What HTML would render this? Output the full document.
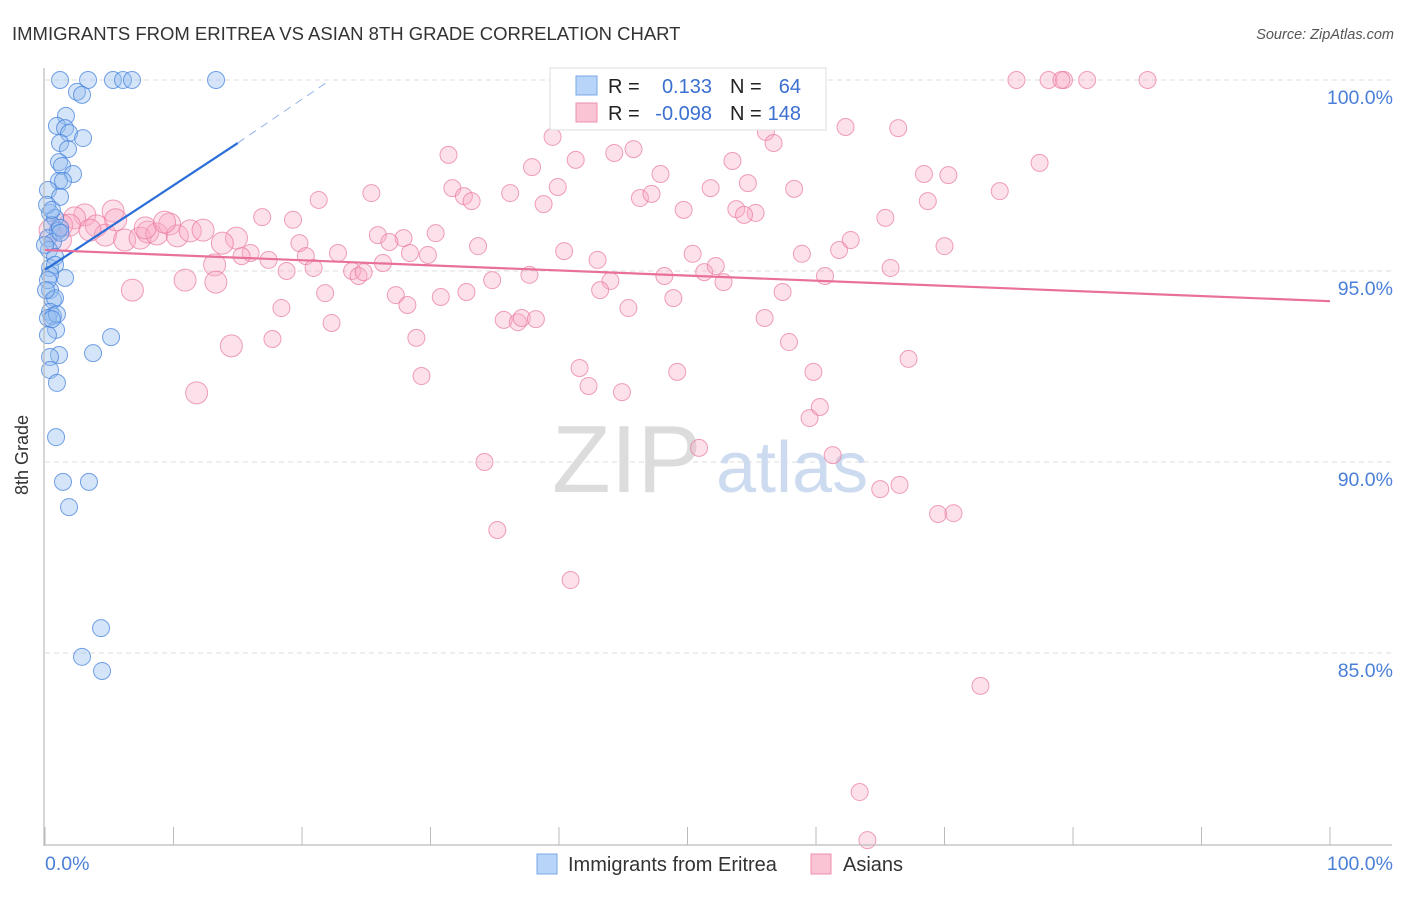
<!DOCTYPE html>
<html><head><meta charset="utf-8"><style>
body{margin:0;background:#fff;font-family:"Liberation Sans",sans-serif;}
svg text{font-family:"Liberation Sans",sans-serif;}
</style></head><body>
<svg width="1406" height="892" xmlns="http://www.w3.org/2000/svg">
<text x="12" y="40" font-size="18.5" fill="#333">IMMIGRANTS FROM ERITREA VS ASIAN 8TH GRADE CORRELATION CHART</text>
<text x="1394" y="39" font-size="14.5" fill="#555" font-style="italic" text-anchor="end">Source: ZipAtlas.com</text>
<g id="grid"></g>
<g>
<text x="552" y="492" font-size="96" fill="#dcdcdc" font-family="Liberation Serif">ZIP</text>
<text x="716" y="492" font-size="72" fill="#cddbf0">atlas</text>
</g>
<g id="pink"></g>
<g id="blue"></g>
<g id="trends"></g>
<line x1="44" y1="68" x2="44" y2="846" stroke="#bbb" stroke-width="1.2"/>
<line x1="44" y1="845" x2="1392" y2="845" stroke="#bbb" stroke-width="1.2"/>
<g id="axes"></g>
<text x="28" y="455" font-size="18" fill="#333" transform="rotate(-90 28 455)" text-anchor="middle">8th Grade</text>
<g>
<rect x="550" y="68" width="276" height="62" fill="#fff" stroke="#ddd"/>
<rect x="576" y="76" width="21" height="19" fill="#b8d4f8" stroke="#7aa8e8"/>
<rect x="576" y="103" width="21" height="19" fill="#fac4d4" stroke="#ec90ac"/>
<text x="608" y="93" font-size="20" fill="#222">R = </text>
<text x="712" y="93" font-size="20" fill="#3b6fd0" text-anchor="end">0.133</text>
<text x="730" y="93" font-size="20" fill="#222">N =</text>
<text x="801" y="93" font-size="20" fill="#3b6fd0" text-anchor="end">64</text>
<text x="608" y="120" font-size="20" fill="#222">R = </text>
<text x="712" y="120" font-size="20" fill="#3b6fd0" text-anchor="end">-0.098</text>
<text x="730" y="120" font-size="20" fill="#222">N =</text>
<text x="801" y="120" font-size="20" fill="#3b6fd0" text-anchor="end">148</text>
</g>
<g>
<rect x="537" y="854" width="20" height="20" fill="#b8d4f8" stroke="#7aa8e8"/>
<text x="568" y="871" font-size="20" fill="#333">Immigrants from Eritrea</text>
<rect x="811" y="854" width="20" height="20" fill="#fac4d4" stroke="#ec90ac"/>
<text x="843" y="871" font-size="20" fill="#333">Asians</text>
</g>
</svg>
<script>
const yTicks=[100,95,90,85];
const yTickLabels=["100.0%","95.0%","90.0%","85.0%"];
const xTickLabels=["0.0%","100.0%"];
const blueX=[1.17,3.35,5.29,6.07,6.77,13.31,2.49,2.88,1.63,0.93,1.56,1.87,2.96,1.17,1.79,1.09,1.32,2.18,1.09,1.40,0.23,1.17,0.39,0.78,0.54,1.01,0.23,0.62,0.31,0.78,0.39,0.78,1.56,0.39,0.62,0.78,0.39,0.62,0.23,0.86,0.23,1.09,0.39,3.74,5.14,0.39,0.93,0.86,1.40,3.42,1.87,4.36,2.88,4.44,0.16,0.54,1.17,0.0,0.39,0.23,0.93,0.54,0.08,1.2];
const blueY=[100,100,100,100,100,100,99.69,99.61,99.06,98.80,98.74,98.61,98.48,98.35,98.19,97.85,97.75,97.54,97.36,97.36,97.12,96.94,96.52,96.39,96.20,96.05,95.86,95.76,95.55,95.37,95.08,95.16,94.82,94.50,94.24,94.29,93.93,93.82,93.77,93.46,93.32,92.80,92.75,92.85,93.27,92.41,92.07,90.65,89.48,89.48,88.82,85.65,84.90,84.53,96.73,96.60,96.13,95.68,94.90,94.76,93.87,93.74,94.50,96.0];
const pinkX=[75.6,78.1,79.3,81.1,85.8,79.1,39.5,56.1,62.3,66.4,31.4,41.3,44.3,45.8,37.9,53.5,56.7,77.4,68.4,70.3,47.9,54.7,31.7,32.6,33.2,36.2,39.9,38.8,46.3,47.2,51.8,58.3,74.3,68.7,25.4,21.3,49.7,53.8,55.3,54.4,16.9,19.3,65.4,30.4,25.9,27.9,26.8,33.7,40.4,43.0,19.8,20.3,14.9,16.0,17.4,22.8,26.3,29.8,28.4,34.8,37.7,44.0,43.2,48.2,50.4,51.3,52.2,52.8,57.4,58.9,61.8,62.7,60.7,65.8,70.0,67.2,10.9,13.2,13.3,15.3,18.8,20.9,21.8,23.9,24.4,24.8,27.3,28.2,30.8,32.8,35.7,36.8,37.1,38.2,45.4,48.9,56.0,57.9,59.8,22.3,18.4,17.7,14.5,11.8,28.9,29.3,34.2,35.2,40.9,41.6,42.3,44.9,49.2,50.9,59.5,60.3,61.3,65.0,66.5,69.5,70.7,72.8,63.4,64.0,6.8,5.3,3.1,2.3,1.3,4.0,4.7,6.2,7.4,8.0,8.7,9.7,10.3,11.3,12.3,13.8,1.2,1.9,0.4,7.8,9.3,5.5,3.5];
const pinkY=[100,100,100,100,100,100,98.51,98.64,98.77,98.74,98.04,97.91,98.09,98.19,97.72,97.88,98.35,97.83,97.54,97.51,97.54,97.30,97.17,96.96,96.83,97.04,97.20,96.75,96.91,97.02,97.17,97.15,97.09,96.83,97.04,96.86,96.60,96.62,96.52,96.47,96.41,96.34,96.39,95.99,95.94,95.86,95.76,95.65,95.52,95.29,95.73,95.39,95.86,95.47,95.29,95.47,95.21,95.42,95.47,94.76,94.90,94.74,94.50,94.87,95.45,94.97,95.13,94.71,94.45,95.45,95.55,95.81,94.87,95.08,95.65,92.70,94.76,95.16,94.71,95.39,95.00,95.08,94.42,95.00,94.87,94.97,94.37,94.11,94.32,94.45,93.72,93.66,93.77,93.74,94.03,94.29,93.77,93.14,92.36,93.64,94.03,93.22,93.04,91.81,93.25,92.25,90.00,88.22,86.91,92.46,91.99,91.83,92.36,90.37,91.15,91.44,90.18,89.29,89.40,88.64,88.66,84.14,81.36,80.10,94.50,96.57,96.47,96.39,96.20,96.18,95.94,95.81,95.86,96.02,95.97,96.23,95.92,96.05,96.07,95.73,95.81,96.20,96.07,96.13,96.28,96.34,96.07];
const blueTrend=[[0,95.03],[15,98.35],[22.2,100]];
const pinkTrend=[[0,95.55],[100,94.21]];
const NS="http://www.w3.org/2000/svg";
const X=v=>45+v*12.85, Y=v=>80+(100-v)*38.2;
function mk(tag,attrs,parent){const e=document.createElementNS(NS,tag);for(const k in attrs)e.setAttribute(k,attrs[k]);parent.appendChild(e);return e;}
const grid=document.getElementById('grid'), axes=document.getElementById('axes');
yTicks.forEach((t,i)=>{
  const l=mk('line',{x1:45,x2:1392,y1:Y(t),y2:Y(t),stroke:'#ddd','stroke-dasharray':'5,4'},grid);
  
  
  const tx=mk('text',{x:1393,y:Y(t)+24,'font-size':19.5,fill:'#4a7fd8','text-anchor':'end'},axes);
  tx.textContent=yTickLabels[i];
  
  
});
for(let k=0;k<=10;k++){
  const l=mk('line',{x1:X(k*10),x2:X(k*10),y1:827,y2:845,stroke:'#bbb'},axes);
  
  
}
[[0,'start',45],[100,'end',1393]].forEach((d,i)=>{
  const tx=mk('text',{x:d[2],y:870,'font-size':19.5,fill:'#4a7fd8','text-anchor':d[1]},axes);
  tx.textContent=xTickLabels[i];
  
  
});
const pg=document.getElementById('pink');
pinkX.forEach((x,i)=>{
  const c=mk('circle',{cx:X(x),cy:Y(pinkY[i]),r:x<15?11:8.5,fill:'rgba(248,170,195,0.35)',stroke:'rgba(232,120,158,0.7)','stroke-width':1},pg);
  
  
});
const bg=document.getElementById('blue');
blueX.forEach((x,i)=>{
  const c=mk('circle',{cx:X(x),cy:Y(blueY[i]),r:8.5,fill:'rgba(150,190,240,0.4)',stroke:'rgba(70,130,220,0.75)','stroke-width':1},bg);
  
  
});
const tg=document.getElementById('trends');
const b1=mk('line',{x1:X(blueTrend[0][0]),y1:Y(blueTrend[0][1]),x2:X(blueTrend[1][0]),y2:Y(blueTrend[1][1]),stroke:'#2a6ed8','stroke-width':2.2},tg);


const b2=mk('line',{x1:X(blueTrend[1][0]),y1:Y(blueTrend[1][1]),x2:X(blueTrend[2][0]),y2:Y(blueTrend[2][1]),stroke:'#8fb0e8','stroke-width':1,'stroke-dasharray':'8,6'},tg);


const p1=mk('line',{x1:X(pinkTrend[0][0]),y1:Y(pinkTrend[0][1]),x2:X(pinkTrend[1][0]),y2:Y(pinkTrend[1][1]),stroke:'#e8709a','stroke-width':2.2},tg);


</script>
</body></html>
